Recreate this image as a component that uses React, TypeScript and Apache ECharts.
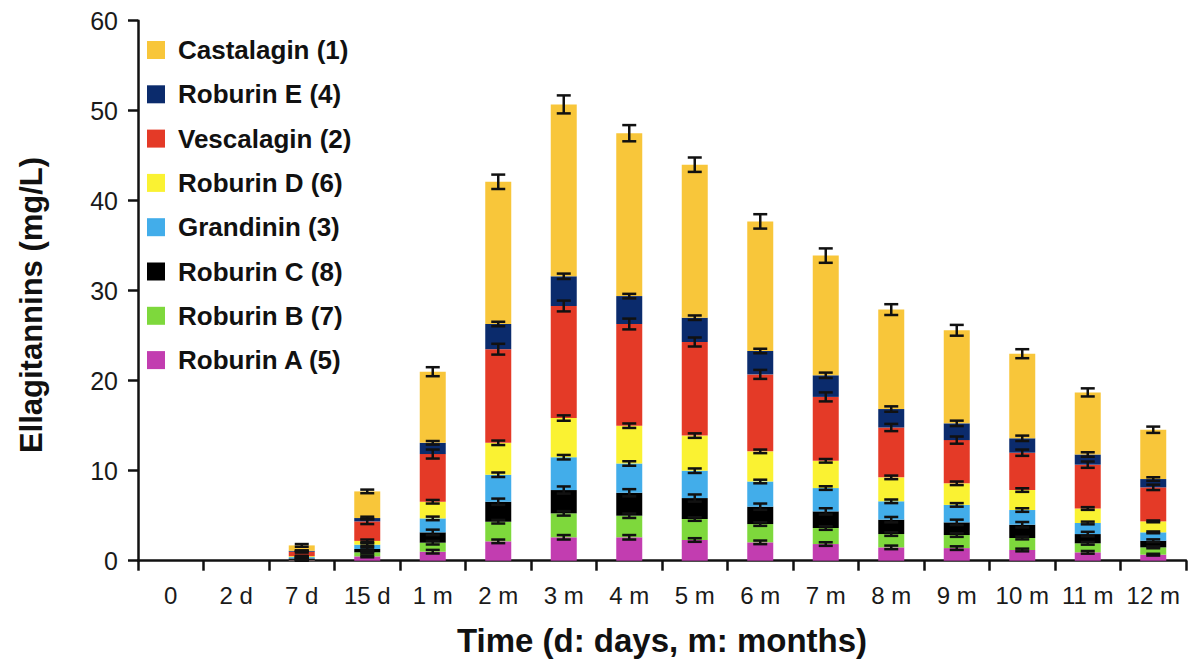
import React, { useEffect, useRef } from "react";
import * as echarts from "echarts";

const categories = ["0", "2 d", "7 d", "15 d", "1 m", "2 m", "3 m", "4 m", "5 m", "6 m", "7 m", "8 m", "9 m", "10 m", "11 m", "12 m"];

// segment values (mg/L), bottom to top of each stack
const roburinA = [0, 0, 0.05, 0.48, 1.0, 2.15, 2.6, 2.6, 2.3, 2.04, 1.85, 1.48, 1.4, 1.19, 0.93, 0.67];
const roburinB = [0, 0, 0.05, 0.45, 1.0, 2.18, 2.66, 2.4, 2.33, 2.03, 1.78, 1.48, 1.45, 1.33, 1.0, 0.81];
const roburinC = [0, 0, 0.15, 0.37, 1.15, 2.22, 2.59, 2.55, 2.33, 1.93, 1.85, 1.6, 1.41, 1.48, 1.03, 0.74];
const grandinin = [0, 0, 0.15, 0.48, 1.55, 3.0, 3.65, 3.25, 3.04, 2.8, 2.59, 2.04, 1.94, 1.63, 1.23, 0.93];
const roburinD = [0, 0, 0.1, 0.42, 1.85, 3.55, 4.35, 4.2, 3.9, 3.35, 3.03, 2.66, 2.4, 2.22, 1.61, 1.22];
const vescalagin = [0, 0, 0.5, 2.17, 5.3, 10.4, 12.45, 11.3, 10.4, 8.55, 7.1, 5.54, 4.8, 4.15, 4.87, 3.78];
const roburinE = [0, 0, 0.1, 0.37, 1.25, 2.8, 3.3, 3.1, 2.7, 2.6, 2.4, 2.05, 1.86, 1.6, 1.13, 0.92];
const castalagin = [0, 0, 0.6, 2.96, 7.9, 15.8, 19.1, 18.1, 17.0, 14.4, 13.3, 11.05, 10.34, 9.4, 6.9, 5.48];

// error (± mg/L) drawn at the top of each segment
const errA = [0, 0, 0.05, 0.1, 0.2, 0.2, 0.25, 0.25, 0.2, 0.2, 0.2, 0.2, 0.2, 0.15, 0.15, 0.1];
const errB = [0, 0, 0.05, 0.1, 0.2, 0.2, 0.25, 0.25, 0.2, 0.2, 0.2, 0.2, 0.2, 0.15, 0.15, 0.1];
const errC = [0, 0, 0.05, 0.15, 0.3, 0.35, 0.4, 0.4, 0.4, 0.35, 0.35, 0.3, 0.3, 0.3, 0.25, 0.15];
const errGr = [0, 0, 0.05, 0.15, 0.2, 0.25, 0.25, 0.25, 0.25, 0.2, 0.2, 0.2, 0.2, 0.2, 0.15, 0.1];
const errD = [0, 0, 0.05, 0.15, 0.2, 0.25, 0.3, 0.25, 0.25, 0.2, 0.2, 0.2, 0.2, 0.2, 0.15, 0.1];
const errV = [0, 0, 0.1, 0.3, 0.5, 0.6, 0.6, 0.6, 0.5, 0.5, 0.5, 0.4, 0.4, 0.35, 0.35, 0.3];
const errE = [0, 0, 0.05, 0.15, 0.2, 0.25, 0.3, 0.25, 0.25, 0.25, 0.3, 0.3, 0.3, 0.3, 0.25, 0.2];
const errCast = [0, 0, 0.15, 0.2, 0.5, 0.8, 1.0, 0.9, 0.8, 0.8, 0.8, 0.6, 0.6, 0.5, 0.45, 0.35];

const seriesNames = ["Roburin A (5)", "Roburin B (7)", "Roburin C (8)", "Grandinin (3)", "Roburin D (6)", "Vescalagin (2)", "Roburin E (4)", "Castalagin (1)"];
const seriesValues = [roburinA, roburinB, roburinC, grandinin, roburinD, vescalagin, roburinE, castalagin];
const seriesErrors = [errA, errB, errC, errGr, errD, errV, errE, errCast];
const seriesColors = ["#C23DB0", "#7ED83C", "#000000", "#42ADEA", "#FAF232", "#E43A27", "#0B2B6C", "#F8C63A"];

const yTicks = [0, 10, 20, 30, 40, 50, 60];
const yTitle = "Ellagitannins (mg/L)";
const xTitle = "Time (d: days, m: months)";

export default function App() {
  const ref = useRef<HTMLDivElement>(null);
  useEffect(() => {
    if (!ref.current) return;
    const chart = echarts.init(ref.current, null, { renderer: "svg" });

    const errData: number[][] = [];
    const cum = categories.map(() => 0);
    seriesValues.forEach((vals, si) => {
      vals.forEach((v, ci) => {
        cum[ci] += v;
        const e = seriesErrors[si][ci];
        if (v > 0 && e > 0) errData.push([ci, +cum[ci].toFixed(3), e]);
      });
    });

    const barSeries = seriesNames.map((name, i) => ({
      name,
      type: "bar",
      stack: "total",
      barWidth: 26,
      itemStyle: { color: seriesColors[i] },
      data: seriesValues[i],
    }));

    const font = "Liberation Sans, Arial, sans-serif";
    const axisFont = { fontFamily: font, fontSize: 25, color: "#1a1a1a" };

    chart.setOption({
      animation: false,
      grid: { left: 138, right: 9, top: 20.7, bottom: 107.3 },
      graphic: [
        {
          type: "text",
          x: 31,
          y: 305,
          rotation: Math.PI / 2,
          style: {
            text: yTitle,
            fontFamily: font,
            fontSize: 31,
            fontWeight: "bold",
            fill: "#111",
            textAlign: "center",
            textVerticalAlign: "middle",
          },
        },
      ],
      legend: {
        orient: "vertical",
        left: 142,
        top: 32,
        itemWidth: 18,
        itemHeight: 18,
        itemGap: 18.3,
        icon: "rect",
        data: [...seriesNames].reverse(),
        textStyle: { fontFamily: font, fontSize: 26, fontWeight: "bold", color: "#111", padding: [0, 0, 0, 8] },
      },
      xAxis: {
        type: "category",
        data: categories,
        boundaryGap: true,
        name: xTitle,
        nameLocation: "middle",
        nameGap: 63,
        nameTextStyle: { fontFamily: font, fontSize: 33, fontWeight: "bold", color: "#111" },
        axisLine: { lineStyle: { color: "#111", width: 2.5 } },
        axisTick: { show: true, length: 10, lineStyle: { color: "#111", width: 2.5 } },
        axisLabel: { ...axisFont, fontSize: 24, margin: 23, interval: 0 },
      },
      yAxis: {
        type: "value",
        min: 0,
        max: 60,
        interval: 10,
        axisLine: { show: true, lineStyle: { color: "#111", width: 2.5 } },
        axisTick: { show: true, length: 10, lineStyle: { color: "#111", width: 2.5 } },
        splitLine: { show: false },
        axisLabel: { ...axisFont, margin: 20, formatter: (v: number) => (yTicks.includes(v) ? String(v) : "") },
      },
      series: [
        ...barSeries,
        {
          type: "custom",
          name: "errors",
          z: 10,
          data: errData,
          renderItem: (params: any, api: any) => {
            const x = api.value(0);
            const y = api.value(1);
            const e = api.value(2);
            const top = api.coord([x, y + e]);
            const bot = api.coord([x, y - e]);
            const hw = 7;
            const style = { stroke: "#111", lineWidth: 2.5 };
            return {
              type: "group",
              children: [
                { type: "line", shape: { x1: top[0], y1: top[1], x2: bot[0], y2: bot[1] }, style },
                { type: "line", shape: { x1: top[0] - hw, y1: top[1], x2: top[0] + hw, y2: top[1] }, style },
                { type: "line", shape: { x1: bot[0] - hw, y1: bot[1], x2: bot[0] + hw, y2: bot[1] }, style },
              ],
            };
          },
        },
      ],
    });
    return () => chart.dispose();
  }, []);
  return <div ref={ref} style={{ width: 1195, height: 668, position: "absolute", left: 0, top: 0 }} />;
}
